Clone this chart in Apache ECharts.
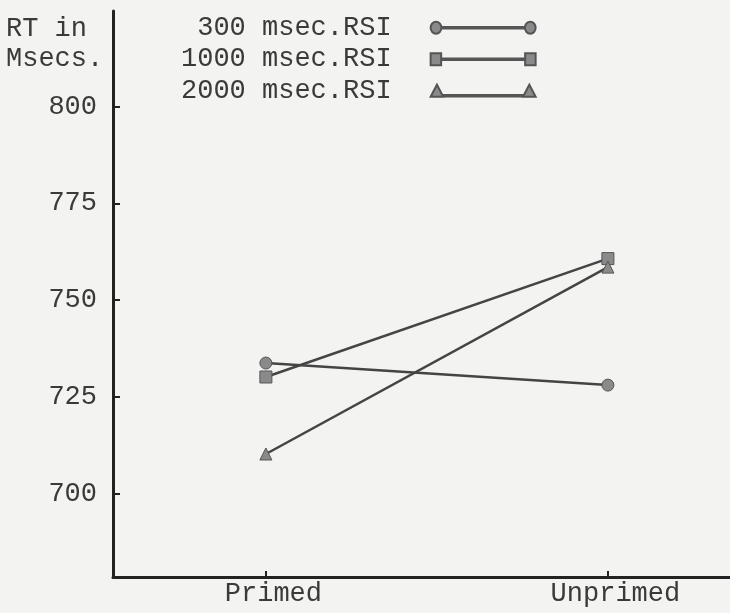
<!DOCTYPE html>
<html><head><meta charset="utf-8">
<script src="https://cdn.jsdelivr.net/npm/echarts@6/dist/echarts.min.js"></script>
<style>html,body{margin:0;padding:0;background:#f3f3f1}#c{width:730px;height:613px}</style>
</head><body><div id="c"></div>
<script>
const categories = ['Primed', 'Unprimed'];
const seriesNames = ['300 msec.RSI', '1000 msec.RSI', '2000 msec.RSI'];
const rsi300 = [733.7, 728.0];
const rsi1000 = [730.1, 760.7];
const rsi2000 = [710.2, 758.5];
const yTicks = [700, 725, 750, 775, 800];
const xTicks = [0, 1];

const FONT = 'Liberation Mono';
const INK = '#3a3a3a';

const iconCircle = 'path://M1,6 A5,5 0 1,0 11,6 A5,5 0 1,0 1,6 Z M11,5.3 L89,5.3 L89,6.7 L11,6.7 Z M89,6 A5,5 0 1,0 99,6 A5,5 0 1,0 89,6 Z';
const iconRect = 'path://M0,1 L10,1 L10,11 L0,11 Z M10,5.3 L90,5.3 L90,6.7 L10,6.7 Z M90,1 L100,1 L100,11 L90,11 Z';
const iconTri = 'path://M0,12 L6,0 L12,12 Z M12,10.3 L88,10.3 L88,11.7 L12,11.7 Z M88,12 L94,0 L100,12 Z';

function mk(name, vals, symbol) {
  return {
    name: name, type: 'line', symbol: symbol, symbolSize: 12,
    data: categories.map((c, i) => [i, vals[i]]),
    lineStyle: { color: '#444', width: 2.5 },
    itemStyle: { color: '#8a8a8a', borderColor: '#555', borderWidth: 1 },
    emphasis: { disabled: true }
  };
}

const chart = echarts.init(document.getElementById('c'));
chart.setOption({
  backgroundColor: '#f3f3f1',
  animation: false,
  title: {
    text: 'RT in\nMsecs.', left: 6, top: 14, padding: 0,
    textStyle: { fontFamily: FONT, fontSize: 27, fontWeight: 'normal', color: INK, lineHeight: 30 }
  },
  legend: {
    orient: 'vertical', align: 'right', left: 181, top: 12, padding: 0,
    itemWidth: 105, itemHeight: 12, itemGap: 0, symbolKeepAspect: false,
    textStyle: { fontFamily: FONT, fontSize: 27, color: INK, lineHeight: 31.5, padding: [0, 34, 0, 0] },
    data: [
      { name: seriesNames[0], icon: iconCircle },
      { name: seriesNames[1], icon: iconRect },
      { name: seriesNames[2], icon: iconTri }
    ]
  },
  grid: { left: 113, right: 0, top: 11, bottom: 36, containLabel: false, outerBoundsMode: 'none' },
  xAxis: {
    type: 'value', min: -0.447, max: 1.357,
    axisLine: { show: true, onZero: false, lineStyle: { color: '#222', width: 3 } },
    axisTick: { show: true, inside: false, length: -6, customValues: xTicks, lineStyle: { color: '#222', width: 2 } },
    axisLabel: { customValues: xTicks, formatter: v => categories[Math.round(v)], margin: 3,
      padding: [0, 0, 0, 15], fontFamily: FONT, fontSize: 27, color: INK },
    splitLine: { show: false }
  },
  yAxis: {
    type: 'value', min: 678.4, max: 824.7,
    axisLine: { show: true, onZero: false, lineStyle: { color: '#222', width: 3 } },
    axisTick: { show: true, inside: false, length: -7, customValues: yTicks, lineStyle: { color: '#222', width: 2 } },
    axisLabel: { customValues: yTicks, margin: 16, padding: [0, 0, 8, 0], fontFamily: FONT, fontSize: 27, color: INK },
    splitLine: { show: false }
  },
  series: [
    mk(seriesNames[0], rsi300, 'circle'),
    mk(seriesNames[1], rsi1000, 'rect'),
    mk(seriesNames[2], rsi2000, 'triangle')
  ]
});
</script></body></html>
